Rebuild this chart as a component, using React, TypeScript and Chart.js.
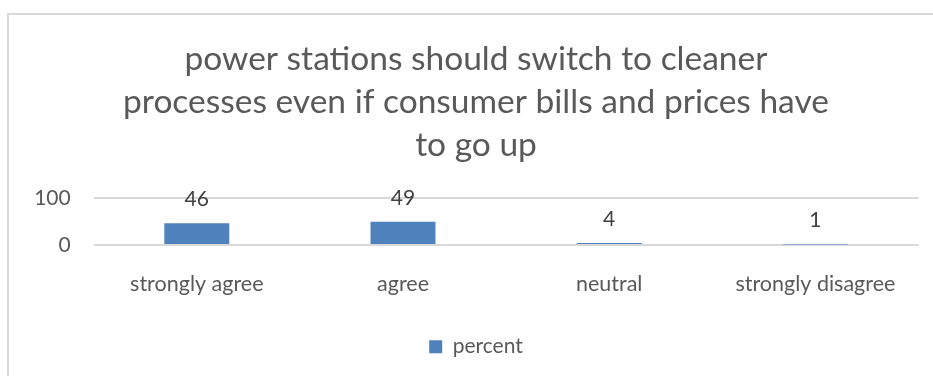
import React, { useEffect, useRef } from "react";
import { Chart, registerables } from "chart.js";

Chart.register(...registerables);

const categories = ["strongly agree", "agree", "neutral", "strongly disagree"];
const percentValues = [46, 49, 4, 1];
const seriesLabel = "percent";
const titleLines = [
  "power stations should switch to cleaner",
  "processes even if consumer bills and prices have",
  "to go up",
];
const yMin = 0;
const yMax = 100;
const yStep = 100;

const FONT = "Lato, 'Open Sans', sans-serif";
const CANVAS_W = 934;
const CANVAS_H = 390;

const dataLabelPlugin = {
  id: "dataLabels",
  afterDatasetsDraw(chart: any) {
    const ctx = chart.ctx;
    ctx.save();
    ctx.font = `21px ${FONT}`;
    ctx.fillStyle = "#404040";
    ctx.textAlign = "center";
    ctx.textBaseline = "middle";
    chart.data.datasets.forEach((ds: any, di: number) => {
      const meta = chart.getDatasetMeta(di);
      meta.data.forEach((el: any, i: number) => {
        ctx.fillText(String(ds.data[i]), el.x, el.y - 24);
      });
    });
    ctx.restore();
  },
};

export default function App() {
  const ref = useRef<HTMLCanvasElement | null>(null);

  useEffect(() => {
    if (!ref.current) return;
    const chart = new Chart(ref.current, {
      type: "bar",
      data: {
        labels: categories,
        datasets: [
          {
            label: seriesLabel,
            data: percentValues,
            backgroundColor: "#4F81BD",
            borderWidth: 0,
            barPercentage: 0.315,
            categoryPercentage: 1,
            yAxisID: "y",
          },
        ],
      },
      options: {
        responsive: false,
        animation: false,
        maintainAspectRatio: false,
        layout: { padding: { top: 0, left: 0, right: 0, bottom: 37.8 } },
        plugins: {
          tooltip: { enabled: false },
          title: {
            display: true,
            text: titleLines,
            color: "#595959",
            font: { family: FONT, size: 33.5, weight: "normal", lineHeight: 43 / 33.5 },
            padding: { top: 23, bottom: 30.8 },
          },
          legend: {
            display: true,
            position: "bottom",
            labels: {
              boxWidth: 13,
              boxHeight: 13,
              padding: 10,
              color: "#595959",
              font: { family: FONT, size: 21 },
            },
          },
        },
        scales: {
          x: {
            grid: { display: false, drawTicks: false },
            border: { display: false },
            ticks: {
              color: "#595959",
              font: { family: FONT, size: 21.5 },
              padding: 26.4,
              maxRotation: 0,
              autoSkip: false,
            },
            afterFit(scale: any) {
              scale.height = 81.2;
            },
          },
          y: {
            position: "left",
            min: yMin,
            max: yMax,
            grid: { color: "#d9d9d9", lineWidth: 2, drawTicks: false },
            border: { display: false },
            ticks: {
              stepSize: yStep,
              color: "#595959",
              font: { family: FONT, size: 21 },
              padding: 23,
            },
            afterFit(scale: any) {
              scale.width = 84.7;
            },
          },
          yRightSpace: {
            type: "linear",
            position: "right",
            display: true,
            grid: { display: false, drawTicks: false },
            border: { display: false },
            ticks: { display: false },
            afterFit(scale: any) {
              scale.width = 24.5;
            },
          },
        },
      } as any,
      plugins: [dataLabelPlugin],
    });
    return () => chart.destroy();
  }, []);

  return (
    <div
      style={{
        position: "absolute",
        left: 0,
        top: 0,
        width: 933,
        height: 376,
        overflow: "hidden",
        background: "#fff",
      }}
    >
      <div
        style={{
          position: "absolute",
          left: 7,
          top: 13,
          borderLeft: "2px solid #d9d9d9",
          borderTop: "2px solid #d9d9d9",
          width: CANVAS_W,
          height: CANVAS_H,
        }}
      >
        <canvas
          ref={ref}
          width={CANVAS_W}
          height={CANVAS_H}
          style={{ display: "block", width: CANVAS_W, height: CANVAS_H }}
        />
      </div>
    </div>
  );
}
